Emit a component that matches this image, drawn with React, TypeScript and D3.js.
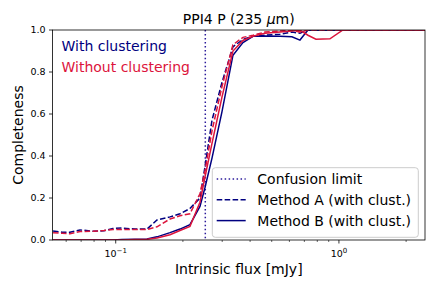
import React from 'react';
import * as d3 from 'd3';

// intrinsic flux bins [mJy]
const flux = [
  0.0524, 0.0575, 0.0624, 0.0692, 0.0791, 0.0886, 0.0972, 0.1067, 0.122, 0.1381,
  0.1531, 0.1751, 0.1941, 0.2151, 0.2385, 0.2512, 0.27, 0.2992, 0.3352, 0.3716,
  0.412, 0.4662, 0.5443, 0.6158, 0.669, 0.7265, 0.7889, 0.9115, 1.042, 1.242, 2.43,
];

const methodAWith = [
  0.043, 0.037, 0.037, 0.048, 0.042, 0.044, 0.055, 0.057, 0.052, 0.052,
  0.095, 0.11, 0.125, 0.15, 0.2, 0.35, 0.57, 0.75, 0.92, 0.955,
  0.97, 0.975, 0.98, 0.99, 0.985, 1.0, 1.0, 1.0, 1.0, 1.0, 1.0,
];
const methodBWith = [
  0, 0, 0, 0, 0, 0, 0, 0.002, 0.003, 0.005,
  0.015, 0.035, 0.052, 0.073, 0.16, 0.25, 0.39, 0.61, 0.88, 0.94,
  0.97, 0.972, 0.97, 0.968, 0.952, 1.0, 1.0, 1.0, 1.0, 1.0, 1.0,
];
const methodAWithout = [
  0.035, 0.032, 0.03, 0.04, 0.042, 0.045, 0.05, 0.05, 0.05, 0.05,
  0.063, 0.1, 0.115, 0.125, 0.22, 0.33, 0.52, 0.73, 0.93, 0.965,
  0.975, 0.99, 0.995, 1.0, 0.99, 1.0, 1.0, 1.0, 1.0, 1.0, 1.0,
];
const methodBWithout = [
  0, 0, 0, 0, 0, 0, 0, 0, 0.002, 0.004,
  0.01, 0.025, 0.045, 0.065, 0.18, 0.3, 0.46, 0.68, 0.9, 0.95,
  0.97, 0.984, 0.99, 0.995, 1.0, 0.975, 0.956, 0.958, 1.0, 1.0, 1.0,
];

const confusionLimit = 0.252;
const yTicks = [0, 0.2, 0.4, 0.6, 0.8, 1.0];
const xMajor = [
  { v: 0.1, exp: '\u22121' },
  { v: 1, exp: '0' },
];
const xMinor = [0.06, 0.07, 0.08, 0.09, 0.2, 0.3, 0.4, 0.5, 0.6, 0.7, 0.8, 0.9, 2];

const NAVY = '#000080';
const CRIMSON = '#dc143c';
const FONT = 'DejaVu Sans, sans-serif';

const W = 436;
const H = 291;
const left = 52.5;
const right = 425;
const top = 30;
const bottom = 240;

export default function App() {
  const x = d3.scaleLog().domain([0.0521, 2.43]).range([left, right]);
  const y = d3.scaleLinear().domain([0, 1]).range([bottom, top]);

  const line = d3
    .line<number>()
    .x((_, i) => x(flux[i]))
    .y((d) => y(d));

  const series = [
    { data: methodAWith, color: NAVY, dash: '5.55,2.4' },
    { data: methodBWith, color: NAVY, dash: undefined },
    { data: methodAWithout, color: CRIMSON, dash: '5.55,2.4' },
    { data: methodBWithout, color: CRIMSON, dash: undefined },
  ];

  const legend = [
    { label: 'Confusion limit', color: '#2b1a9a', dash: '1.5,2.475' },
    { label: 'Method A (with clust.)', color: NAVY, dash: '5.55,2.4' },
    { label: 'Method B (with clust.)', color: NAVY, dash: undefined },
  ];

  return (
    <svg
      width={W}
      height={H}
      style={{ position: 'absolute', left: 0, top: 0, background: '#fff' }}
      fontFamily={FONT}
    >
      <defs>
        <clipPath id="plotClip">
          <rect x={left} y={top} width={right - left} height={bottom - top} />
        </clipPath>
      </defs>

      {/* title */}
      <text x={(left + right) / 2} y={24} fontSize={14} textAnchor="middle">
        PPI4 P (235 <tspan fontStyle="italic">{'\u03bc'}</tspan>m)
      </text>

      {/* y ticks */}
      {yTicks.map((t) => (
        <g key={t}>
          <line x1={left - 3.5} x2={left} y1={y(t)} y2={y(t)} stroke="#000" strokeWidth={0.8} />
          <text x={left - 7} y={y(t)} dy="0.35em" fontSize={9.5} textAnchor="end">
            {t.toFixed(1)}
          </text>
        </g>
      ))}

      {/* x ticks */}
      {xMinor.map((t) => (
        <line key={t} x1={x(t)} x2={x(t)} y1={bottom} y2={bottom + 2} stroke="#000" strokeWidth={0.6} />
      ))}
      {xMajor.map((t) => (
        <g key={t.v}>
          <line x1={x(t.v)} x2={x(t.v)} y1={bottom} y2={bottom + 3.5} stroke="#000" strokeWidth={0.8} />
          <text x={x(t.v)} y={257} fontSize={9.5} textAnchor="middle">
            10<tspan dy={-4} fontSize={7}>{t.exp}</tspan>
          </text>
        </g>
      ))}

      {/* axis labels */}
      <text x={(left + right) / 2} y={274} fontSize={14} textAnchor="middle">
        Intrinsic flux [mJy]
      </text>
      <text
        transform={`translate(23, ${(top + bottom) / 2}) rotate(-90)`}
        fontSize={14}
        textAnchor="middle"
      >
        Completeness
      </text>

      <g clipPath="url(#plotClip)">
        <line
          x1={x(confusionLimit)}
          x2={x(confusionLimit)}
          y1={top}
          y2={bottom}
          stroke="#2b1a9a"
          strokeWidth={1.5}
          strokeDasharray="1.5,2.475"
        />
        {series.map((s, i) => (
          <path
            key={i}
            d={line(s.data) ?? ''}
            fill="none"
            stroke={s.color}
            strokeWidth={1.5}
            strokeDasharray={s.dash}
          />
        ))}
      </g>

      {/* annotations */}
      <text x={61.5} y={50.5} fontSize={14} fill={NAVY}>With clustering</text>
      <text x={61.5} y={71.5} fontSize={14} fill={CRIMSON}>Without clustering</text>

      {/* frame */}
      <rect x={left} y={top} width={right - left} height={bottom - top} fill="none" stroke="#000" strokeWidth={0.8} />

      {/* legend */}
      <rect x={212.3} y={167.7} width={206} height={69.6} rx={3} fill="#fff" fillOpacity={0.8} stroke="#ccc" strokeWidth={1} />
      {legend.map((l, i) => {
        const ly = 179 + i * 20.8;
        return (
          <g key={l.label}>
            <line x1={216.7} x2={245.7} y1={ly} y2={ly} stroke={l.color} strokeWidth={1.5} strokeDasharray={l.dash} />
            <text x={257.3} y={ly} dy="0.35em" fontSize={14}>{l.label}</text>
          </g>
        );
      })}
    </svg>
  );
}
